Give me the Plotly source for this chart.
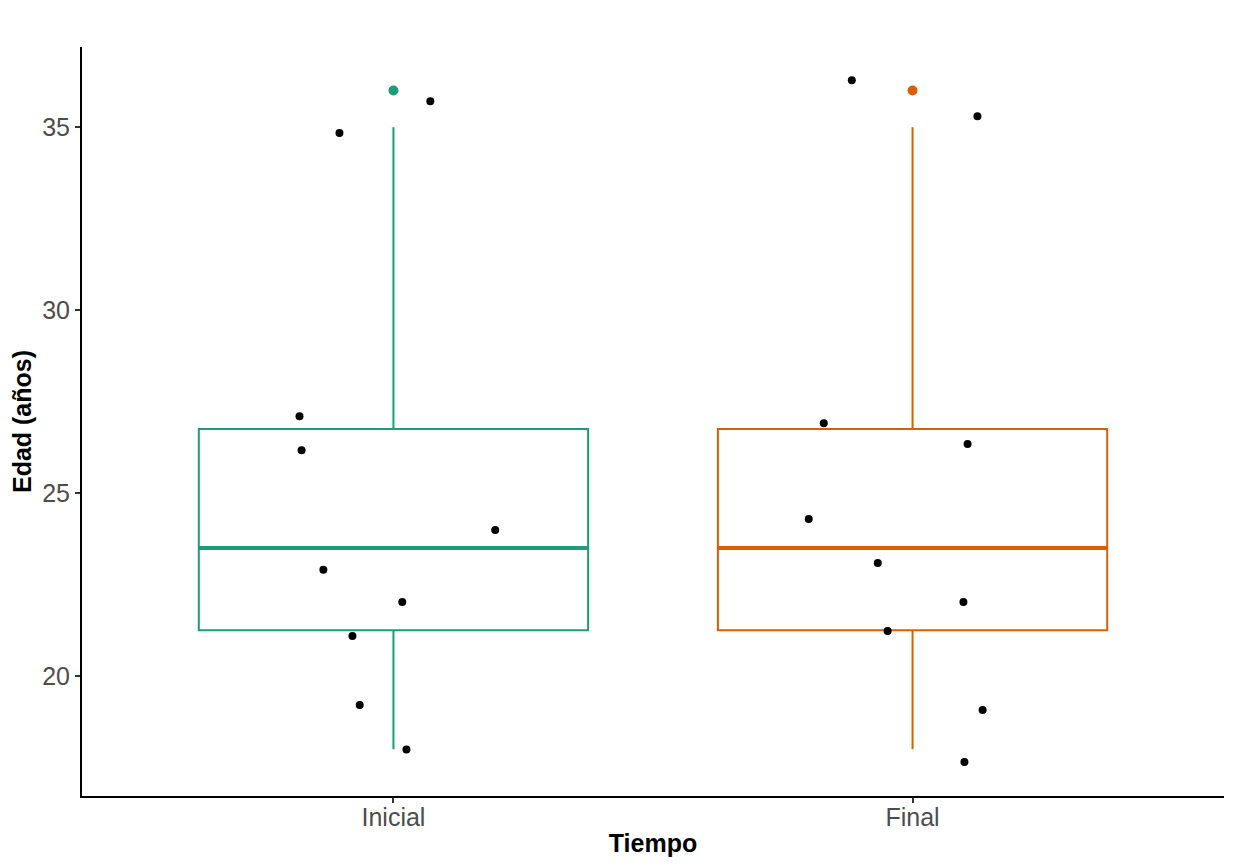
import plotly.graph_objects as go

# categorías y estadísticos de cada caja
tiempos = ["Inicial", "Final"]
posiciones = [1, 2]
colores = ["#1B9E77", "#D95F02"]
q1 = [21.25, 21.25]
mediana = [23.5, 23.5]
q3 = [26.75, 26.75]
bigote_inf = [18.0, 18.0]
bigote_sup = [35.0, 35.0]
atipicos = [36.0, 36.0]

# puntos con jitter (desplazamiento horizontal, edad)
jitter_inicial = [0.071, -0.104, -0.181, -0.177, 0.196, -0.135, 0.017, -0.079, -0.065, 0.025]
edad_inicial = [35.71, 34.84, 27.10, 26.17, 23.99, 22.90, 22.02, 21.09, 19.21, 17.99]
jitter_final = [-0.117, 0.125, -0.171, 0.106, -0.200, -0.067, 0.098, -0.048, 0.135, 0.100]
edad_final = [36.28, 35.30, 26.91, 26.34, 24.29, 23.09, 22.02, 21.23, 19.07, 17.65]

ancho = 0.75
fig = go.Figure()

for i, t in enumerate(tiempos):
    fig.add_trace(go.Box(
        x=[posiciones[i]], q1=[q1[i]], median=[mediana[i]], q3=[q3[i]],
        lowerfence=[bigote_inf[i]], upperfence=[bigote_sup[i]],
        width=ancho, whiskerwidth=0, boxpoints=False,
        line=dict(color=colores[i], width=2),
        fillcolor="white", name=t, showlegend=False
    ))
    # mediana más gruesa, como en ggplot
    fig.add_trace(go.Scatter(
        x=[posiciones[i] - ancho / 2, posiciones[i] + ancho / 2],
        y=[mediana[i], mediana[i]], mode="lines",
        line=dict(color=colores[i], width=4), showlegend=False, hoverinfo="skip"
    ))
    fig.add_trace(go.Scatter(
        x=[posiciones[i]], y=[atipicos[i]], mode="markers",
        marker=dict(color=colores[i], size=10), showlegend=False
    ))

fig.add_trace(go.Scatter(
    x=[posiciones[0] + d for d in jitter_inicial], y=edad_inicial, mode="markers",
    marker=dict(color="black", size=8), showlegend=False
))
fig.add_trace(go.Scatter(
    x=[posiciones[1] + d for d in jitter_final], y=edad_final, mode="markers",
    marker=dict(color="black", size=8), showlegend=False
))

eje = dict(
    showline=True, linecolor="black", linewidth=2, showgrid=False, zeroline=False,
    ticks="outside", ticklen=5, tickwidth=1.5, tickcolor="#333333",
    tickfont=dict(size=25, color="#4D4D4D", family="Liberation Sans, Arial"),
)

fig.update_layout(
    width=1237, height=867,
    margin=dict(l=72, r=21, t=39, b=79),
    plot_bgcolor="white", paper_bgcolor="white",
    font=dict(family="Liberation Sans, Arial"),
    xaxis=dict(
        eje, range=[0.4, 2.6], tickvals=posiciones, ticktext=tiempos,
        ticklabelstandoff=-7,
        title=dict(text="<b>Tiempo</b>", font=dict(size=25, color="black"), standoff=4)
    ),
    yaxis=dict(
        eje, range=[16.72, 37.19], tickvals=[20, 25, 30, 35],
        title=dict(text="<b>Edad (años)</b>", font=dict(size=25, color="black"), standoff=5)
    ),
)

fig.write_html("out.html")
